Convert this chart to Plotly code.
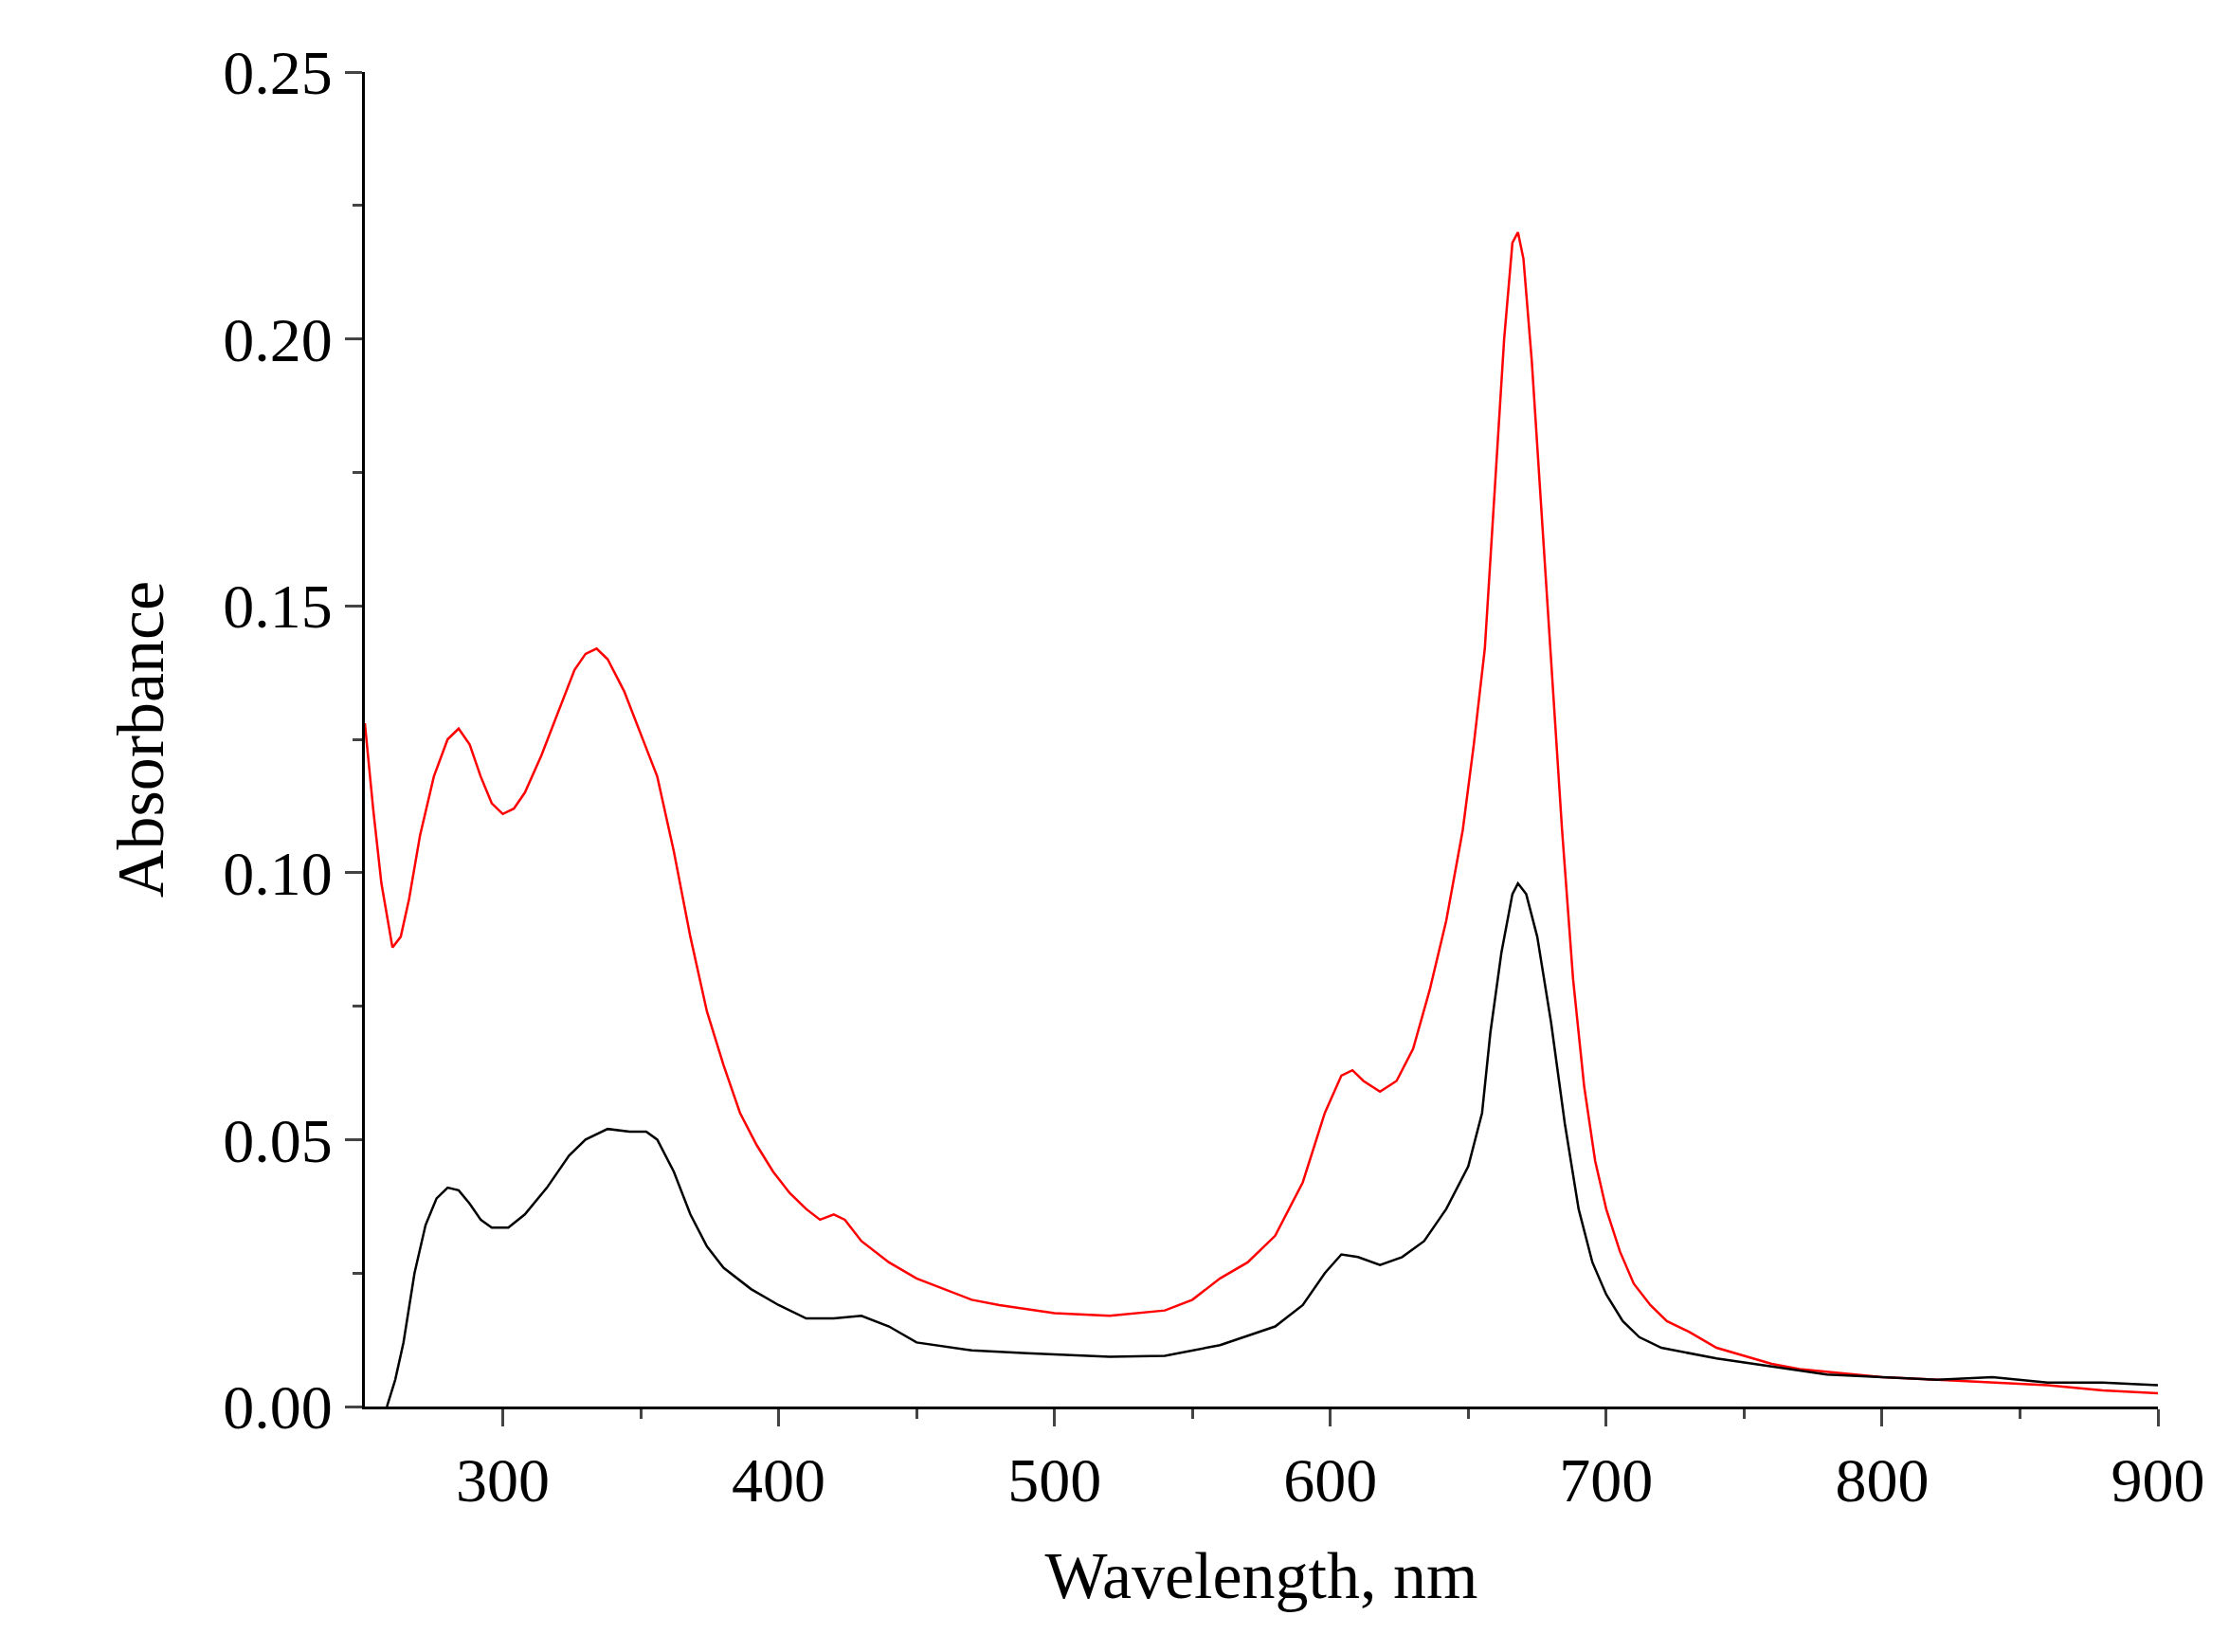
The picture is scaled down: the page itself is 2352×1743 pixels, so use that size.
import plotly.graph_objects as go

red_x = [250,253,256,258,260,263,266,270,275,280,284,288,292,296,300,304,308,314,320,326,330,334,338,344,350,356,362,368,374,380,386,392,398,404,410,415,420,424,430,440,450,460,470,480,500,520,540,550,560,570,580,590,598,604,608,612,618,624,630,636,642,648,652,656,660,663,666,668,670,673,676,680,684,688,692,696,700,705,710,716,722,730,740,750,760,770,790,800,820,840,860,880,900]
red_y = [0.128,0.112,0.098,0.092,0.086,0.088,0.095,0.107,0.118,0.125,0.127,0.124,0.118,0.113,0.111,0.112,0.115,0.122,0.130,0.138,0.141,0.142,0.140,0.134,0.126,0.118,0.104,0.088,0.074,0.064,0.055,0.049,0.044,0.040,0.037,0.035,0.036,0.035,0.031,0.027,0.024,0.022,0.020,0.019,0.0175,0.017,0.018,0.020,0.024,0.027,0.032,0.042,0.055,0.062,0.063,0.061,0.059,0.061,0.067,0.078,0.091,0.108,0.124,0.142,0.175,0.200,0.218,0.220,0.215,0.196,0.172,0.140,0.108,0.080,0.060,0.046,0.037,0.029,0.023,0.019,0.016,0.014,0.011,0.0095,0.008,0.007,0.006,0.0055,0.005,0.0045,0.004,0.003,0.0025]

black_x = [258,261,264,268,272,276,280,284,288,292,296,302,308,316,324,330,338,346,352,356,362,368,374,380,390,400,410,420,430,440,450,470,490,520,540,560,580,590,598,604,610,618,626,634,642,650,655,658,662,666,668,671,675,680,685,690,695,700,706,712,720,730,740,760,780,800,820,840,860,880,900]
black_y = [0.0,0.005,0.012,0.025,0.034,0.039,0.041,0.0405,0.038,0.035,0.0335,0.0335,0.036,0.041,0.047,0.050,0.052,0.0515,0.0515,0.050,0.044,0.036,0.030,0.026,0.022,0.019,0.0165,0.0165,0.017,0.015,0.012,0.0105,0.010,0.0093,0.0095,0.0115,0.015,0.019,0.025,0.0285,0.028,0.0265,0.028,0.031,0.037,0.045,0.055,0.070,0.085,0.096,0.098,0.096,0.088,0.072,0.053,0.037,0.027,0.021,0.016,0.013,0.011,0.010,0.009,0.0075,0.006,0.0055,0.005,0.0055,0.0045,0.0045,0.004]

fig = go.Figure()
fig.add_trace(go.Scatter(x=red_x, y=red_y, mode="lines", line=dict(color="red", width=2.5), showlegend=False))
fig.add_trace(go.Scatter(x=black_x, y=black_y, mode="lines", line=dict(color="black", width=2.5), showlegend=False))

font = dict(family="Liberation Serif", color="black")
fig.update_layout(
    width=2352, height=1743, plot_bgcolor="white", paper_bgcolor="white",
    margin=dict(l=377, r=83, t=68, b=267),
    font=dict(family="Liberation Serif", size=66, color="black"),
)
fig.update_xaxes(range=[250, 900], tickvals=[300,400,500,600,700,800,900], ticks="outside", ticklen=18, tickwidth=3,
                 showline=True, linewidth=3, linecolor="black", showgrid=False, zeroline=False,
                 tickfont=dict(size=66), title=dict(text="Wavelength, nm", font=dict(size=70), standoff=40),
                 minor=dict(tickvals=[350,450,550,650,750,850], ticks="outside", ticklen=10, tickwidth=3))
fig.update_yaxes(range=[0, 0.25], tickvals=[0,0.05,0.10,0.15,0.20,0.25], tickformat=".2f", ticks="outside", ticklen=18, tickwidth=3,
                 showline=True, linewidth=3, linecolor="black", showgrid=False, zeroline=False,
                 tickfont=dict(size=66), title=dict(text="Absorbance", font=dict(size=70), standoff=40),
                 minor=dict(tickvals=[0.025,0.075,0.125,0.175,0.225], ticks="outside", ticklen=10, tickwidth=3))
fig.write_html("out.html")
